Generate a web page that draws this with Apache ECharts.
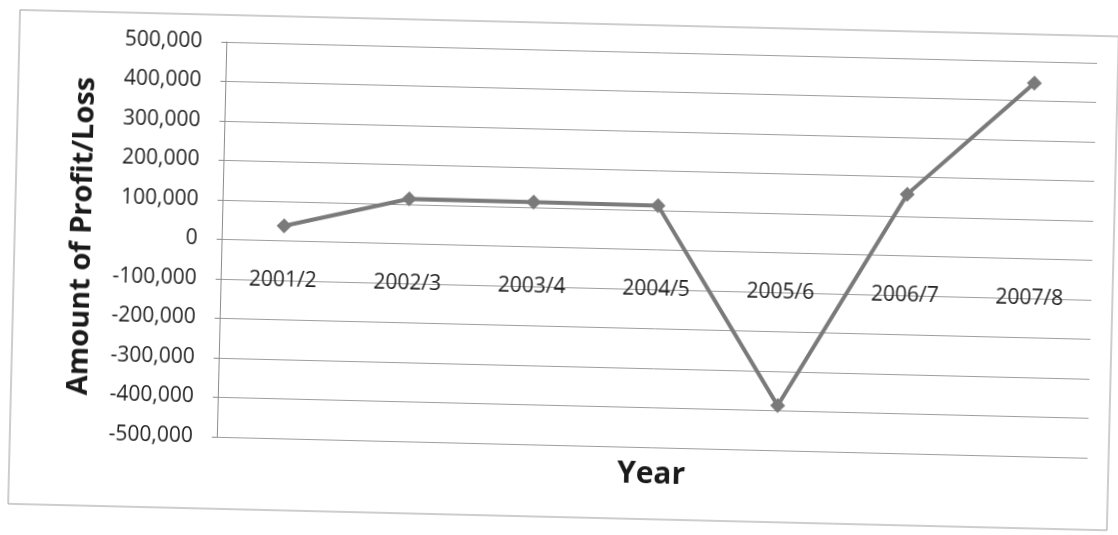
<!DOCTYPE html>
<html>
<head>
<meta charset="utf-8">
<script src="https://cdn.jsdelivr.net/npm/echarts@6/dist/echarts.min.js"></script>
<style>
  html, body { margin: 0; padding: 0; background: #ffffff; overflow: hidden; }
  #chart {
    width: 1118px; height: 535px;
    transform: rotate(1.38deg);
    transform-origin: 559px 267.5px;
  }
</style>
</head>
<body>
<div id="chart"></div>
<script>
// Financial years on the category axis
const years = ['2001/2', '2002/3', '2003/4', '2004/5', '2005/6', '2006/7', '2007/8'];
// Profit (positive) or loss (negative) for each year
const profitLoss = [38000, 114000, 113000, 112000, -387000, 156000, 445000];
// Value axis range and step
const yMin = -500000;
const yMax = 500000;
const yStep = 100000;

const axisFont = 'Open Sans';
const chart = echarts.init(document.getElementById('chart'), null, { renderer: 'canvas' });

chart.setOption({
  backgroundColor: 'transparent',
  animation: false,
  graphic: [
    {
      type: 'rect',
      shape: { x: 14, y: 23, width: 1099, height: 494 },
      style: { fill: '#ffffff', stroke: '#9c9c9c', lineWidth: 1 },
      z: -10
    },
    {
      type: 'text',
      x: 656,
      y: 472,
      style: {
        text: 'Year',
        align: 'center', verticalAlign: 'middle',
        font: 'bold 30px "Open Sans"',
        fill: '#1a1a1a'
      }
    }
  ],
  grid: { left: 221, right: 26, top: 50, bottom: 90, containLabel: false },
  xAxis: {
    type: 'category',
    data: years,
    boundaryGap: true,
    axisLine: { show: false },
    axisTick: { show: false },
    // category names sit just below the zero line, over the -100,000 gridline
    axisLabel: { margin: -168, color: '#1f1f1f', fontFamily: axisFont, fontSize: 21 },
    splitLine: { show: false }
  },
  yAxis: {
    type: 'value',
    min: yMin,
    max: yMax,
    interval: yStep,
    name: 'Amount of Profit/Loss',
    nameLocation: 'middle',
    nameGap: 125,
    nameRotate: 90,
    nameTextStyle: { fontFamily: axisFont, fontWeight: 'bold', fontSize: 29, color: '#1a1a1a' },
    axisLine: { show: true, lineStyle: { color: '#8c8c8c', width: 1 } },
    axisTick: { show: true, length: 5, lineStyle: { color: '#8c8c8c' } },
    axisLabel: {
      margin: 24,
      color: '#1f1f1f',
      fontFamily: axisFont,
      fontSize: 21,
      formatter: v => v.toLocaleString('en-US')
    },
    splitLine: { show: true, lineStyle: { color: '#9e9e9e', width: 1 } }
  },
  series: [
    {
      type: 'line',
      data: profitLoss,
      symbol: 'diamond',
      symbolSize: 15,
      lineStyle: { color: '#7a7a7a', width: 4 },
      itemStyle: { color: '#7a7a7a' },
      z: 5
    }
  ]
});
</script>
</body>
</html>
